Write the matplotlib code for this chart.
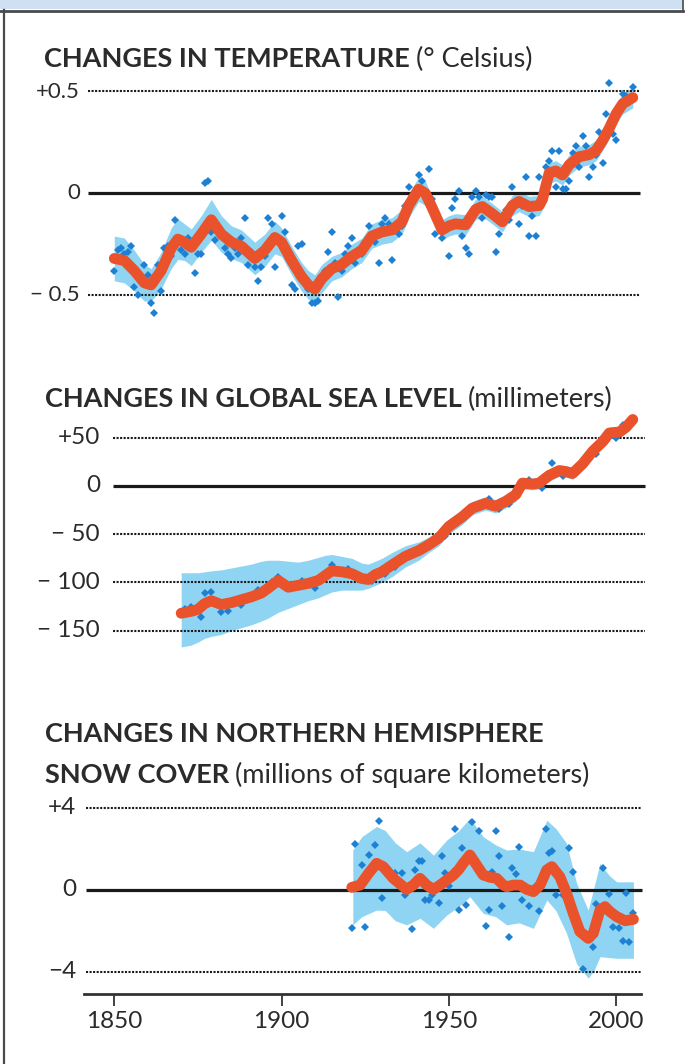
import matplotlib
matplotlib.use("Agg")
import matplotlib.pyplot as plt
from matplotlib import transforms
from matplotlib.lines import Line2D
from matplotlib.patches import Rectangle

# ---------------- data ----------------
# Global mean temperature, difference from 1961-1990 (deg C)
temp_years = list(range(1850, 2006))
temp_annual = [
    -0.38, -0.28, -0.27, -0.30, -0.29, -0.26, -0.46, -0.50, -0.42, -0.35,
    -0.40, -0.54, -0.59, -0.35, -0.48, -0.27, -0.26, -0.31, -0.13, -0.22,
    -0.28, -0.30, -0.22, -0.26, -0.39, -0.30, -0.30, 0.05, 0.06, -0.19,
    -0.23, -0.18, -0.21, -0.27, -0.30, -0.32, -0.27, -0.30, -0.22, -0.12,
    -0.35, -0.29, -0.36, -0.43, -0.36, -0.31, -0.12, -0.15, -0.36, -0.22,
    -0.11, -0.19, -0.31, -0.45, -0.47, -0.26, -0.25, -0.43, -0.47, -0.54,
    -0.54, -0.53, -0.41, -0.38, -0.29, -0.19, -0.34, -0.51, -0.38, -0.30,
    -0.26, -0.22, -0.34, -0.28, -0.30, -0.24, -0.16, -0.22, -0.24, -0.34,
    -0.15, -0.12, -0.15, -0.33, -0.17, -0.20, -0.16, -0.06, 0.03, -0.03,
    0.00, 0.09, 0.06, 0.00, 0.12, -0.03, -0.20, -0.13, -0.22, -0.18,
    -0.31, -0.07, -0.03, 0.01, -0.21, -0.27, -0.30, -0.02, 0.01, -0.02,
    -0.12, -0.01, -0.02, -0.02, -0.29, -0.20, -0.11, -0.08, -0.13, 0.03,
    -0.04, -0.15, -0.06, 0.08, -0.21, -0.11, -0.21, 0.08, -0.01, 0.13,
    0.16, 0.21, 0.03, 0.21, 0.02, 0.02, 0.06, 0.20, 0.23, 0.13,
    0.28, 0.23, 0.08, 0.13, 0.19, 0.30, 0.15, 0.39, 0.54, 0.29,
    0.26, 0.41, 0.49, 0.48, 0.45, 0.52,
]
temp_smooth_years = [
    1850, 1853, 1856, 1859, 1861, 1864, 1867, 1869, 1871, 1873,
    1876, 1879, 1882, 1885, 1888, 1890, 1892, 1895, 1898, 1900,
    1903, 1906, 1908, 1910, 1912, 1915, 1918, 1921, 1924, 1927,
    1930, 1933, 1936, 1938, 1941, 1943, 1945, 1948, 1950, 1952,
    1955, 1958, 1960, 1963, 1966, 1969, 1971, 1974, 1977, 1978,
    1980, 1982, 1984, 1986, 1989, 1992, 1994, 1996, 1998, 2000,
    2002, 2005,
]
temp_smooth = [
    -0.32, -0.33, -0.38, -0.44, -0.45, -0.38, -0.27, -0.225, -0.24, -0.265,
    -0.20, -0.13, -0.20, -0.24, -0.26, -0.29, -0.32, -0.28, -0.217, -0.24,
    -0.33, -0.41, -0.45, -0.47, -0.42, -0.37, -0.35, -0.31, -0.28, -0.21,
    -0.19, -0.18, -0.14, -0.06, 0.02, 0.00, -0.07, -0.18, -0.16, -0.15,
    -0.155, -0.08, -0.065, -0.10, -0.14, -0.06, -0.04, -0.065, -0.06, -0.03,
    0.10, 0.11, 0.09, 0.14, 0.18, 0.19, 0.21, 0.26, 0.32, 0.39,
    0.44, 0.47,
]
temp_halfwidth = [
    0.11, 0.11, 0.10, 0.09, 0.08, 0.09, 0.10, 0.10, 0.09, 0.09,
    0.09, 0.10, 0.09, 0.08, 0.08, 0.08, 0.08, 0.08, 0.08, 0.07,
    0.07, 0.07, 0.07, 0.07, 0.07, 0.06, 0.06, 0.06, 0.06, 0.06,
    0.06, 0.06, 0.06, 0.06, 0.06, 0.06, 0.05, 0.05, 0.05, 0.05,
    0.05, 0.05, 0.05, 0.05, 0.05, 0.05, 0.05, 0.05, 0.05, 0.05,
    0.05, 0.05, 0.05, 0.05, 0.05, 0.05, 0.05, 0.05, 0.05, 0.05,
    0.05, 0.05,
]

# Global average sea level, difference from 1961-1990 (mm)
sea_years = [
    1870, 1873, 1875, 1877, 1879, 1882, 1885, 1888, 1891, 1894,
    1896, 1899, 1902, 1905, 1908, 1911, 1913, 1915, 1918, 1921,
    1924, 1926, 1928, 1930, 1933, 1937, 1941, 1944, 1947, 1950,
    1954, 1957, 1961, 1964, 1967, 1970, 1972, 1975, 1977, 1980,
    1983, 1985, 1987, 1990, 1993, 1996, 1998, 2001, 2003, 2005,
]
sea_smooth = [
    -132, -130, -128, -122, -119, -123, -121, -118, -115, -111,
    -106, -98, -105, -103, -101, -98, -93, -88, -89, -91,
    -96, -97, -92, -89, -82, -73, -67, -61, -54, -42,
    -32, -23, -18, -21, -16, -9, 3, 2, 3, 11,
    16, 15, 13, 23, 36, 46, 55, 56, 61, 69,
]
sea_upper = [
    -90, -90, -90, -89, -88, -87, -85, -83, -81, -78,
    -77, -77, -78, -79, -77, -74, -72, -71, -73, -75,
    -80, -81, -78, -75, -69, -62, -58, -53, -46, -35,
    -25, -16, -11, -14, -9, -2, 9, 8, 9, 17,
    22, 21, 19, 29, 42, 52, 61, 62, 67, 75,
]
sea_lower = [
    -167, -165, -162, -158, -156, -154, -150, -147, -144, -140,
    -137, -131, -127, -123, -119, -116, -113, -110, -108, -108,
    -108, -106, -103, -100, -94, -84, -77, -69, -62, -50,
    -40, -30, -25, -28, -23, -16, -3, -4, -3, 5,
    10, 9, 7, 17, 30, 40, 49, 50, 55, 63,
]
sea_dot_years = [
    1871, 1873, 1876, 1877, 1879, 1882, 1884, 1888, 1893, 1897,
    1899, 1901, 1906, 1910, 1912, 1915, 1920, 1923, 1927, 1931,
    1934, 1938, 1942, 1946, 1949, 1952, 1955, 1959, 1962, 1965,
    1968, 1971, 1974, 1978, 1981, 1984, 1988, 1991, 1994, 1997,
    2000, 2002, 2004,
]
sea_dots = [
    -128, -125, -136, -111, -110, -131, -130, -123, -108, -100,
    -94, -104, -99, -106, -94, -82, -86, -92, -99, -91,
    -84, -70, -65, -55, -52, -37, -30, -19, -14, -24,
    -19, -3, 6, -2, 24, 10, 14, 27, 33, 47,
    50, 63, 62,
]

# Northern Hemisphere snow cover, March-April (million km^2)
snow_years = [
    1921.0, 1923.5, 1926.0, 1928.4, 1930.4, 1933.4, 1937.4, 1939.4, 1941.4, 1943.4,
    1945.4, 1947.4, 1949.4, 1951.4, 1952.9, 1954.3, 1956.3, 1958.3, 1960.3, 1962.3,
    1964.3, 1966.3, 1967.3, 1969.3, 1971.3, 1973.3, 1975.3, 1977.3, 1979.3, 1980.8,
    1983.2, 1985.2, 1987.2, 1989.2, 1991.7, 1993.2, 1995.2, 1996.7, 1998.2, 2000.2,
    2002.7, 2005.2,
]
snow_smooth = [
    0.13, 0.24, 0.81, 1.30, 1.14, 0.57, 0.03, 0.24, 0.57, 0.24,
    0.03, 0.24, 0.49, 0.73, 0.98, 1.30, 1.71, 1.22, 0.73, 0.62,
    0.57, 0.24, 0.16, 0.24, 0.24, 0.03, -0.08, 0.24, 0.98, 1.14,
    0.65, -0.16, -1.14, -2.03, -2.36, -2.11, -0.98, -0.81, -1.06, -1.30,
    -1.50, -1.43,
]
snow_band_years = [
    1921.3, 1924.0, 1928.4, 1931.0, 1934.0, 1937.4, 1941.4, 1945.4, 1949.4, 1953.0,
    1956.3, 1960.3, 1964.0, 1967.3, 1971.0, 1975.3, 1979.3, 1982.0, 1985.2, 1988.2,
    1991.7, 1993.5, 1995.2, 1998.0, 2000.2, 2005.2,
]
snow_upper = [
    1.95, 2.6, 3.1, 2.9, 2.3, 1.87, 2.3, 1.7, 2.44, 2.9,
    3.5, 2.6, 2.2, 1.95, 2.0, 1.87, 3.4, 3.0, 2.28, 0.33,
    -0.98, 0.2, 1.3, 0.7, 0.4, 0.4,
]
snow_lower = [
    -1.7, -1.3, -0.98, -1.0, -1.5, -1.7, -1.38, -1.87, -1.22, -0.8,
    -0.33, -1.14, -1.3, -1.7, -1.6, -1.87, -0.49, -1.0, -2.11, -3.6,
    -4.3, -3.9, -3.25, -3.3, -3.33, -3.33,
]
snow_dot_years = [
    1921, 1922, 1924, 1925, 1926, 1928, 1929, 1930, 1934, 1936,
    1937, 1939, 1940, 1941, 1942, 1943, 1944, 1945, 1947, 1948,
    1949, 1950, 1952, 1953, 1954, 1955, 1957, 1959, 1961, 1962,
    1963, 1964, 1965, 1966, 1968, 1969, 1970, 1971, 1972, 1974,
    1977, 1979, 1980, 1981, 1982, 1984, 1986, 1987, 1990, 1993,
    1994, 1996, 1998, 1999, 2000, 2001, 2002, 2003, 2004, 2005,
]
snow_dots = [
    -1.84, 2.23, 1.22, -1.79, 1.71, 2.20, 3.38, -0.41, 0.81, 0.85,
    -0.24, -1.90, 1.00, 1.43, 1.43, -0.49, -0.49, -0.24, -0.65, 1.67,
    0.81, 0.20, 2.97, -0.98, 2.07, -0.75, 3.30, 2.90, -1.76, -0.98,
    0.89, 2.90, 1.67, -0.78, -2.28, 1.06, 0.79, 2.11, -0.49, -0.78,
    -1.00, 3.00, 1.79, 1.92, -0.24, -0.24, 2.03, 0.89, -3.83, -2.76,
    -0.68, 1.06, -0.20, -1.79, -1.30, -1.87, -2.47, -0.13, -2.52, -1.14,
]

x_tick_years = [1850, 1900, 1950, 2000]
x_tick_labels = ["1850", "1900", "1950", "2000"]
temp_ticks = [0.5, 0.0, -0.5]
temp_tick_labels = ["+0.5", "0", "\u2212 0.5"]
sea_ticks = [50, 0, -50, -100, -150]
sea_tick_labels = ["+50", "0", "\u2212 50", "\u2212 100", "\u2212 150"]
snow_ticks = [4, 0, -4]
snow_tick_labels = ["+4", "0", "\u22124"]

# ---------------- style ----------------
W, H = 694, 1064
RED = "#e9522b"
BAND = "#8fd5f3"
DOT = "#1d80d2"
INK = "#2b2b2b"
FONT = ["Lato", "DejaVu Sans"]

fig = plt.figure(figsize=(W / 100, H / 100), dpi=100)
fig.patch.set_facecolor("white")

X0_PX, X1_PX = 84.0, 640.7
X_1850_PX, PX_PER_YEAR = 114.3, 3.345


def px_to_year(px):
    return 1850 + (px - X_1850_PX) / PX_PER_YEAR


XLIM = (px_to_year(X0_PX), px_to_year(X1_PX))


def make_panel(zero_px, px_per_unit, ylim):
    top = zero_px - ylim[1] * px_per_unit
    bot = zero_px - ylim[0] * px_per_unit
    ax = fig.add_axes([X0_PX / W, 1 - bot / H, (X1_PX - X0_PX) / W, (bot - top) / H])
    ax.set_xlim(*XLIM)
    ax.set_ylim(*ylim)
    ax.patch.set_alpha(0)
    for s in ax.spines.values():
        s.set_visible(False)
    ax.set_xticks([])
    ax.set_yticks([])
    return ax


def ref_lines(ax, dotted_vals, x0_px, x1_px):
    xs = [px_to_year(x0_px), px_to_year(x1_px)]
    for v in dotted_vals:
        if v == 0:
            ax.plot(xs, [v, v], color="#1a1a1a", lw=2.3, solid_capstyle="butt",
                    zorder=2, clip_on=False)
        else:
            ax.plot(xs, [v, v], color="#1a1a1a", lw=1.5, linestyle=(0, (1.0, 0.7)),
                    zorder=2, clip_on=False)


def y_labels(ax, vals, labels, right_px, size):
    tr = transforms.blended_transform_factory(fig.transFigure, ax.transData)
    for v, lab in zip(vals, labels):
        ax.text(right_px / W, v, lab, transform=tr, ha="right", va="center",
                fontsize=size, color=INK, family=FONT)


renderer = fig.canvas.get_renderer()


def title_line(x_px, base_px, bold, regular, size=19.5):
    t = fig.text(x_px / W, 1 - base_px / H, bold, fontsize=size, fontweight="bold",
                 color=INK, family=FONT, va="baseline", ha="left")
    if regular:
        bb = t.get_window_extent(renderer=renderer)
        fig.text((bb.x1 + 6) / W, 1 - base_px / H, regular, fontsize=size,
                 color=INK, family=FONT, va="baseline", ha="left")


def draw_series(ax, band_x, lo, hi, dot_x, dots, line_x, line_y, ms=4.2):
    ax.fill_between(band_x, lo, hi, color=BAND, lw=0, zorder=1)
    ax.plot(dot_x, dots, linestyle="none", marker="D", ms=ms, color=DOT,
            markeredgewidth=0, zorder=3)
    ax.plot(line_x, line_y, color=RED, lw=7.8, solid_capstyle="round",
            solid_joinstyle="round", zorder=4)


# ---------------- temperature ----------------
ax_t = make_panel(193.3, 203.6, (-0.65, 0.6))
ref_lines(ax_t, temp_ticks, 88, 640)
t_lo = [m - h for m, h in zip(temp_smooth, temp_halfwidth)]
t_hi = [m + h for m, h in zip(temp_smooth, temp_halfwidth)]
draw_series(ax_t, temp_smooth_years, t_lo, t_hi, temp_years, temp_annual,
            temp_smooth_years, temp_smooth)
y_labels(ax_t, temp_ticks, temp_tick_labels, 80, 16)
title_line(44, 67, "CHANGES IN TEMPERATURE", "(\u00b0 Celsius)")

# ---------------- sea level ----------------
ax_s = make_panel(486.0, 0.964, (-180, 80))
ref_lines(ax_s, sea_ticks, 113, 645)
draw_series(ax_s, sea_years, sea_lower, sea_upper, sea_dot_years, sea_dots,
            sea_years, sea_smooth, ms=3.6)
y_labels(ax_s, sea_ticks, sea_tick_labels, 100, 17.5)
title_line(45, 407, "CHANGES IN GLOBAL SEA LEVEL", "(millimeters)")

# ---------------- snow cover ----------------
ax_w = make_panel(890.0, 20.5, (-5.07, 5.5))
ref_lines(ax_w, snow_ticks, 86, 642)
draw_series(ax_w, snow_band_years, snow_lower, snow_upper, snow_dot_years, snow_dots,
            snow_years, snow_smooth)
y_labels(ax_w, snow_ticks, snow_tick_labels, 76, 17.5)
title_line(45, 742, "CHANGES IN NORTHERN HEMISPHERE", "")
title_line(45, 783, "SNOW COVER", "(millions of square kilometers)")

# shared year axis along the bottom of the snow panel
ax_w.spines["bottom"].set_visible(True)
ax_w.spines["bottom"].set_color("#333333")
ax_w.spines["bottom"].set_linewidth(2.0)
ax_w.set_xticks(x_tick_years)
ax_w.set_xticklabels(x_tick_labels, family=FONT, fontsize=17.5, color=INK)
ax_w.tick_params(axis="x", direction="out", length=8.5, width=1.3, color="#333333",
                 pad=4)

# page frame: light strip along the top, dark rules on the top and left
fig.add_artist(Rectangle((0, 1 - 9 / H), 683 / W, 9 / H, transform=fig.transFigure,
                         color="#cfe0f3", lw=0, zorder=0))
fig.add_artist(Line2D([0, 683 / W], [1 - 11 / H, 1 - 11 / H], transform=fig.transFigure,
                      color="#4a4a4a", lw=2.0))
fig.add_artist(Line2D([3.5 / W, 3.5 / W], [0, 1 - 10 / H], transform=fig.transFigure,
                      color="#4a4a4a", lw=1.6))
fig.add_artist(Line2D([683 / W, 683 / W], [1 - 11 / H, 1], transform=fig.transFigure,
                      color="#4a4a4a", lw=1.2))

fig.savefig("out.png", dpi=100, facecolor="white")
